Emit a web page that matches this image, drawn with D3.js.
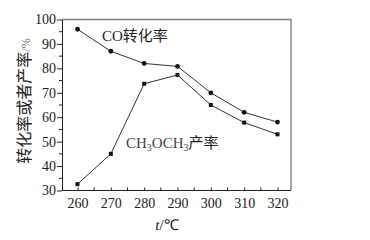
<!DOCTYPE html>
<html>
<head>
<meta charset="utf-8">
<script src="https://cdn.jsdelivr.net/npm/d3@7"></script>
<style>
  body { margin: 0; background: #fff; }
  svg { display: block; }
</style>
</head>
<body>
<svg width="370" height="240"></svg>
<script>
// data
const temps = [260, 270, 280, 290, 300, 310, 320]
const coConversion = [96, 87, 82, 80.8, 70, 62, 58]
const dmeYield = [32.6, 45, 73.7, 77.3, 65, 57.8, 53]
const xTicks = [260, 270, 280, 290, 300, 310, 320]
const yTicks = [30, 40, 50, 60, 70, 80, 90, 100]

let Width = 370
let Height = 240
let svg = d3.select('svg').attr('width', Width).attr('height', Height)

// plot box
const boxLeft = 62, boxRight = 291, boxTop = 19.5, boxBottom = 190.5
let x = d3.scaleLinear().domain([260, 320]).range([77.5, 277.5])
let y = d3.scaleLinear().domain([30, 100]).range([boxBottom, boxTop])

const ink = '#222'
const serif = '"Liberation Serif", "Times New Roman", serif'
const cjk = '"Noto Sans CJK SC", sans-serif'

// frame: top and right in gray
svg.append('path')
  .attr('d', `M${boxLeft},${boxTop}H${boxRight}V${boxBottom}`)
  .attr('fill', 'none').attr('stroke', '#808080').attr('stroke-width', 1.4)

// y axis, ticks outward, minor every 5
let yAxis = d3.axisLeft(y).tickValues(yTicks).tickSize(5).tickPadding(1).tickSizeOuter(0)
let gy = svg.append('g').attr('transform', `translate(${boxLeft},0)`).call(yAxis)
gy.selectAll('.tick text').attr('font-family', serif).attr('font-size', 14).attr('fill', ink)
gy.selectAll('line, path').attr('stroke', ink)
gy.selectAll('.minor').data(d3.range(35, 100, 10)).enter().append('line')
  .attr('x1', 0).attr('x2', -3).attr('y1', d => y(d)).attr('y2', d => y(d)).attr('stroke', ink)

// x axis, ticks inward, every 5
let xAxis = d3.axisBottom(x).tickValues(xTicks).tickSize(-3).tickPadding(8).tickSizeOuter(0)
let gx = svg.append('g').attr('transform', `translate(0,${boxBottom})`).call(xAxis)
gx.select('.domain').attr('d', `M${boxLeft},0H${boxRight}`)
gx.selectAll('.tick text').attr('font-family', serif).attr('font-size', 14).attr('fill', ink)
gx.selectAll('line, path').attr('stroke', ink)
gx.selectAll('.minor').data(d3.range(265, 320, 10)).enter().append('line')
  .attr('x1', d => x(d)).attr('x2', d => x(d)).attr('y1', 0).attr('y2', -3).attr('stroke', ink)

// lines
let line = d3.line().x(d => x(d[0])).y(d => y(d[1]))
let coData = temps.map((t, i) => [t, coConversion[i]])
let dmeData = temps.map((t, i) => [t, dmeYield[i]])

svg.append('path').datum(coData).attr('d', line)
  .attr('fill', 'none').attr('stroke', '#333').attr('stroke-width', 1)
svg.append('path').datum(dmeData).attr('d', line)
  .attr('fill', 'none').attr('stroke', '#333').attr('stroke-width', 1)

svg.selectAll('.co').data(coData).enter().append('circle')
  .attr('cx', d => x(d[0])).attr('cy', d => y(d[1])).attr('r', 2.4).attr('fill', '#111')
svg.selectAll('.dme').data(dmeData).enter().append('rect')
  .attr('x', d => x(d[0]) - 2).attr('y', d => y(d[1]) - 2)
  .attr('width', 4).attr('height', 4).attr('fill', '#111')

// series labels
let t1 = svg.append('text').attr('x', 102).attr('y', 41).attr('fill', ink).attr('font-size', 15)
t1.append('tspan').attr('font-family', serif).text('CO')
t1.append('tspan').attr('font-family', cjk).text('转化率')

let t2 = svg.append('text').attr('x', 126).attr('y', 148).attr('fill', '#444').attr('font-size', 15)
t2.append('tspan').attr('font-family', serif).text('CH')
t2.append('tspan').attr('font-family', serif).attr('font-size', 10).attr('dy', 3).text('3')
t2.append('tspan').attr('font-family', serif).attr('dy', -3).text('OCH')
t2.append('tspan').attr('font-family', serif).attr('font-size', 10).attr('dy', 3).text('3')
t2.append('tspan').attr('font-family', cjk).attr('dy', -3).attr('fill', ink).text('产率')

// axis titles
let yl = svg.append('text').attr('transform', 'translate(30,101) rotate(-90)')
  .attr('text-anchor', 'middle').attr('fill', ink)
yl.append('tspan').attr('font-family', cjk).attr('font-size', 16).text('转化率或者产率')
yl.append('tspan').attr('font-family', serif).attr('font-size', 12).attr('fill', '#666').text('/%')

let xl = svg.append('text').attr('x', 167).attr('y', 230).attr('text-anchor', 'middle')
  .attr('fill', ink).attr('font-family', serif).attr('font-size', 15)
xl.append('tspan').attr('font-style', 'italic').text('t')
xl.append('tspan').text('/℃')
</script>
</body>
</html>
